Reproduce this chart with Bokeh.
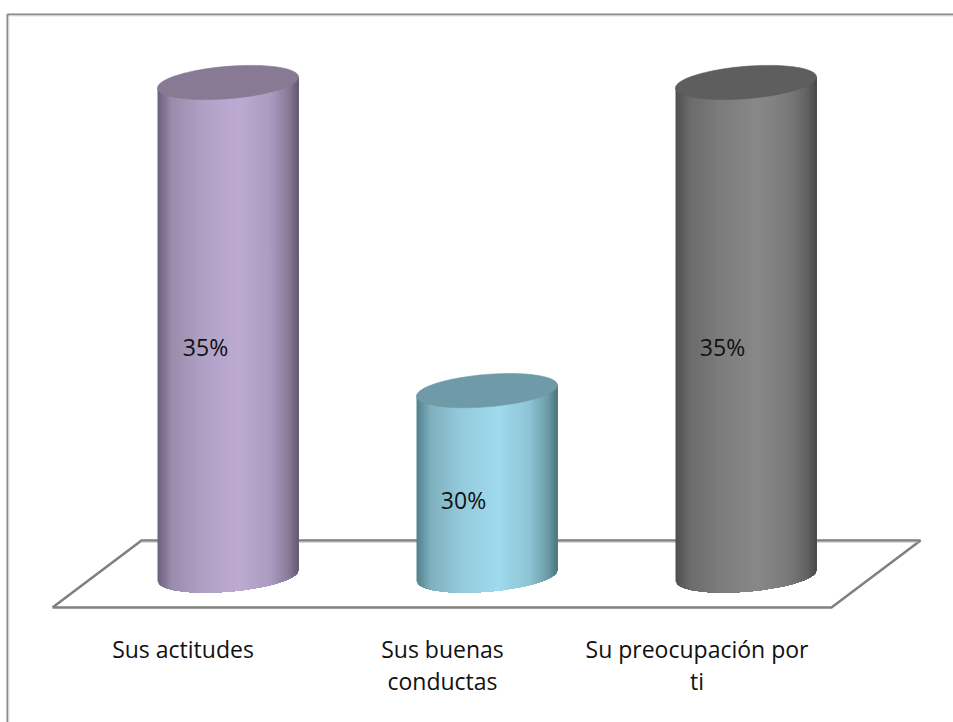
import numpy as np
from bokeh.plotting import figure
from bokeh.models import Range1d
from bokeh.core.properties import value
from bokeh.embed import file_html
from bokeh.resources import INLINE

# ---- data -------------------------------------------------------------
categories = ["Sus actitudes", "Sus buenas\nconductas", "Su preocupación por\nti"]
values = [35, 30, 35]
value_labels = ["35%", "30%", "35%"]
axis_base = 27
shades = [
    ["#6b5f7c", "#9a8cab", "#b0a0c5", "#bcaad3", "#ab9bc0", "#887a97", "#625a70"],
    ["#4f7f8b", "#7fb0bf", "#93cbdc", "#9fdaed", "#8ec4d5", "#6d9ba8", "#4a7480"],
    ["#4e4e4e", "#6b6b6b", "#7c7c7c", "#888888", "#7a7a7a", "#626262", "#484848"],
]
shade_stops = [0.0, 0.1, 0.32, 0.58, 0.8, 0.93, 1.0]
top_colors = ["#887a94", "#6f9aa8", "#5e5e5e"]

# ---- layout -----------------------------------------------------------
W, H = 953, 722
PX_PER_CAT = 259.0
PX_PER_VAL = 61.625
X0_PX = 227.5
BASE_PX = 575.0
def dx(px): return (px - X0_PX) / PX_PER_CAT
def dy(py): return axis_base + (BASE_PX - py) / PX_PER_VAL

p = figure(width=W, height=H, output_backend="svg", toolbar_location=None,
           x_range=Range1d(dx(0), dx(W)), y_range=Range1d(dy(H), dy(0)),
           min_border=0, outline_line_color=None, background_fill_color="white",
           border_fill_color="white")
p.axis.visible = False
p.grid.visible = False

# chart frame
p.line([dx(7), dx(7), dx(W)], [dy(H), dy(14), dy(14)], line_color="#8a8a8a", line_width=2)
p.line([dx(8.5), dx(8.5), dx(W)], [dy(H), dy(15.5), dy(15.5)], line_color="#e4e4e4", line_width=1)

# floor
fx = [52, 831, 920, 141, 52]
fy = [607, 607, 540, 540, 607]
p.line([dx(a) for a in fx], [dy(b) for b in fy], line_color="#808080", line_width=2.6)
p.line([dx(141), dx(918)], [dy(541.5), dy(541.5)], line_color="#b4b4b4", line_width=1)

# cylinders: painted left to right, each strip reaching the right edge, so no seams show
A = 70.5      # half width, px
TILT = 5.5    # rise of the ellipse from its centre to the right end, px
B = 16.2      # half height of the ellipse, px
N = 94

def hex2rgb(c):
    return np.array([int(c[i:i + 2], 16) for i in (1, 3, 5)], float)

for i, (v, sh, tc) in enumerate(zip(values, shades, top_colors)):
    rgb = np.array([hex2rgb(c) for c in sh])
    edges = np.linspace(-1, 1, N + 1)
    xs, ys, cols = [], [], []
    for u0, u1 in zip(edges[:-1], edges[1:]):
        t = (0.5 * (u0 + u1) + 1) / 2
        col = [int(round(np.interp(t, shade_stops, rgb[:, k]))) for k in range(3)]
        cols.append("#%02x%02x%02x" % tuple(col))
        uu = edges[edges >= u0 - 1e-9]
        low = axis_base + (TILT * uu - B * np.sqrt(np.clip(1 - uu * uu, 0, 1))) / PX_PER_VAL
        high = v + TILT * uu / PX_PER_VAL
        px = i + uu * A / PX_PER_CAT
        xs.append(np.concatenate([px, px[::-1]]))
        ys.append(np.concatenate([low, high[::-1]]))
    p.patches(xs, ys, fill_color=cols, line_color=None)
    tt = np.linspace(0, 2 * np.pi, 121)
    ex = i + A * np.cos(tt) / PX_PER_CAT
    ey = v + (TILT * np.cos(tt) + B * np.sin(tt)) / PX_PER_VAL
    p.patch(ex, ey, fill_color=tc, line_color=tc, line_width=0.6)

# value labels
label_x = [dx(205), dx(463), dx(722)]
label_y = [dy(346), dy(499), dy(346)]
p.text(label_x, label_y, text=value_labels, text_font=value("Open Sans"), text_font_size="23px",
       text_color="#111111", text_align="center", text_baseline="middle")

# category labels
cat_x = [dx(182.5), dx(442), dx(696.5)]
cat_y = [dy(632)] * 3
p.text(cat_x, cat_y, text=categories, text_font=value("Open Sans"), text_font_size="23px",
       text_color="#111111", text_align="center", text_baseline="top", text_line_height=1.03)

open("out.html", "w").write(file_html(p, INLINE))
